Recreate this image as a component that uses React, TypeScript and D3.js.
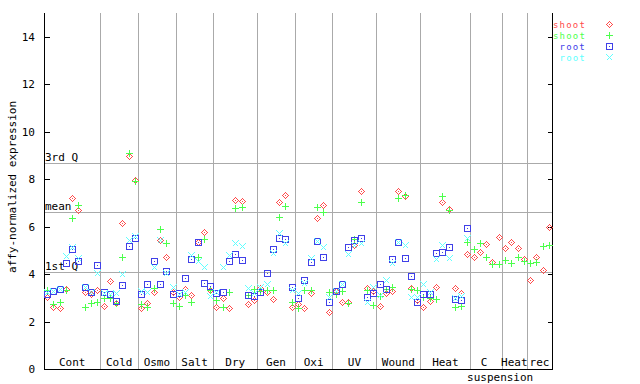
import React from "react";
import * as d3 from "d3";

const categories = ["Cont", "Cold", "Osmo", "Salt", "Dry", "Gen", "Oxi", "UV", "Wound", "Heat", "C suspension", "Heat", "rec"];
const sampleCounts = [9, 6, 6, 6, 7, 6, 6, 7, 7, 8, 5, 4, 4];

// shoot replicate 1 (red diamonds)
const shootRep1 = [
  3.05, 2.60, 2.56, 3.37, 7.20, 6.71, 3.23, 3.16, 3.33,
  2.66, 3.70, 2.77, 6.17, 8.98, 7.97,
  2.56, 2.80, 3.23, 5.44, 4.71, 3.23,
  3.02, 3.36, 3.12, 5.36, 5.76, 3.33,
  2.60, 2.98, 2.56, 7.11, 7.07, 2.74, 2.91,
  3.42, 3.23, 2.94, 7.03, 7.33, 2.60,
  2.74, 2.56, 3.19, 6.36, 6.90, 2.39,
  3.30, 2.81, 2.81, 5.23, 7.51, 3.40, 3.30,
  2.66, 3.20, 3.30, 7.51, 7.30, 3.40, 2.90,
  2.60, 2.87, 3.45, 7.03, 6.75, 3.40, 3.20, 4.84,
  4.71, 4.92, 5.26, 4.53, 5.55,
  5.09, 5.37, 5.09, 4.63,
  3.75, 4.71, 4.16, 5.98,
];
// shoot replicate 2 (green plus)
const shootRep2 = [
  3.33, 2.73, 2.81, 3.33, 6.36, 6.92, 2.60, 2.77, 2.81,
  2.98, 2.99, 2.78, 4.71, 9.10, 7.93,
  2.73, 2.63, 3.40, 5.89, 5.30, 2.77,
  2.66, 3.12, 2.81, 4.71, 5.47, 3.33,
  2.90, 2.60, 3.23, 6.78, 6.82, 3.12, 3.36,
  3.30, 3.33, 3.33, 6.40, 6.86, 2.81,
  2.56, 3.33, 3.33, 6.82, 6.61, 3.26,
  3.16, 3.30, 2.77, 5.47, 7.03, 3.33, 2.70,
  3.08, 3.36, 3.45, 7.20, 7.34, 3.36, 3.33,
  3.05, 3.00, 2.94, 7.30, 6.71, 2.60, 2.66, 5.34,
  5.05, 5.30, 4.71, 4.41, 4.41,
  4.58, 4.46, 4.74, 4.55,
  4.46, 4.50, 5.19, 5.23,
];
// root replicate 1 (blue squares)
const rootRep1 = [
  3.16, 3.30, 3.36, 4.46, 5.06, 4.55, 3.45, 3.23, 4.39,
  3.23, 3.15, 2.86, 3.53, 5.19, 5.54,
  3.16, 3.58, 4.55, 3.58, 4.12, 3.15,
  3.19, 3.82, 4.64, 5.34, 3.61, 3.51,
  3.19, 3.23, 4.55, 4.84, 4.58, 3.12, 3.09,
  3.26, 4.04, 5.05, 5.54, 5.47, 3.45,
  2.98, 3.75, 4.53, 5.40, 4.71, 2.84,
  3.30, 3.58, 5.13, 5.44, 5.51, 3.02, 3.19,
  3.57, 3.36, 4.64, 5.34, 4.67, 3.92, 2.81,
  3.15, 3.15, 4.88, 4.92, 5.13, 2.94, 2.91, 5.93,
];
// root replicate 2 (cyan crosses)
const rootRep2 = [
  3.25, 3.30, 3.36, 4.77, 5.13, 4.67, 3.45, 3.23, 4.06,
  3.20, 3.16, 3.19, 3.99, 5.44, 5.61,
  3.29, 3.26, 4.31, 5.44, 4.06, 3.47,
  3.15, 3.25, 4.81, 4.57, 4.29, 3.08,
  3.25, 4.31, 4.81, 5.30, 5.20, 3.42, 3.20,
  3.47, 3.57, 4.88, 5.72, 5.30, 3.33,
  3.19, 3.64, 4.67, 5.40, 5.13, 3.05,
  3.30, 3.58, 4.84, 5.25, 5.30, 2.84, 3.45,
  3.12, 3.75, 4.48, 5.34, 5.22, 3.05, 3.05,
  3.57, 3.26, 4.64, 5.23, 4.67, 3.00, 3.08, 5.51,
];

const yTicks = [0, 2, 4, 6, 8, 10, 12, 14];
const refLabels = ["3rd Q", "mean", "1st Q"];
const refValues = [8.67, 6.6, 4.07];
const legendLabels = ["shoot", "shoot", "root", "root"];

const COLORS = ["#ff4a4a", "#4cff4c", "#4040e8", "#60ffff"];
const SHAPES = ["diamond", "plus", "square", "cross"];
const FONT = "'DejaVu Sans Mono', monospace";

function Marker({ shape, cx, cy, color }: { shape: string; cx: number; cy: number; color: string }) {
  const r = 3.5;
  if (shape === "diamond") {
    return (
      <g shapeRendering="crispEdges">
        <path d={`M${cx},${cy - 3}L${cx + 3},${cy}L${cx},${cy + 3}L${cx - 3},${cy}Z`} stroke={color} fill="none" strokeWidth={1} />
        <rect x={cx - 0.5} y={cy - 0.5} width={1} height={1} fill={color} />
      </g>
    );
  }
  if (shape === "plus") {
    return (
      <path d={`M${cx - r},${cy}H${cx + r}M${cx},${cy - r}V${cy + r}`} stroke={color} strokeWidth={1} shapeRendering="crispEdges" />
    );
  }
  if (shape === "square") {
    return (
      <g shapeRendering="crispEdges">
        <rect x={cx - 3} y={cy - 3} width={6} height={6} fill="none" stroke={color} strokeWidth={1} />
        <rect x={cx - 0.5} y={cy - 0.5} width={1} height={1} fill={color} />
      </g>
    );
  }
  return (
    <path d={`M${cx - 3},${cy - 3}L${cx + 3},${cy + 3}M${cx - 3},${cy + 3}L${cx + 3},${cy - 3}`} stroke={color} strokeWidth={1} shapeRendering="crispEdges" />
  );
}

export default function App() {
  const W = 640, H = 384;
  const left = 44, right = 552, top = 13.3, bottom = 369;
  const total = d3.sum(sampleCounts);
  const x = d3.scaleLinear().domain([0, total]).range([left, right]);
  const y = d3.scaleLinear().domain([0, 15]).range([bottom, top]);
  const bounds = [0, ...Array.from(d3.cumsum(sampleCounts))];
  const series = [shootRep1, shootRep2, rootRep1, rootRep2];
  const px = (v: number) => Math.round(v) + 0.5;

  return (
    <svg width={W} height={H} style={{ position: "absolute", left: 0, top: 0, background: "#fff" }} fontFamily={FONT} fontSize={11}>
      <rect width={W} height={H} fill="#fff" />
      {/* separators */}
      {bounds.slice(1, -1).map((b, i) => (
        <line key={"s" + i} x1={px(x(b))} x2={px(x(b))} y1={top} y2={bottom} stroke="#aaaaaa" shapeRendering="crispEdges" />
      ))}
      {/* reference lines */}
      {refValues.map((v, i) => (
        <g key={"r" + i}>
          <line x1={left} x2={right} y1={px(y(v))} y2={px(y(v))} stroke="#aaaaaa" shapeRendering="crispEdges" />
          <text x={left + 1} y={Math.round(y(v)) - 2} fill="#000">{refLabels[i]}</text>
        </g>
      ))}
      {/* axes */}
      <path d={`M${px(left)},${top}V${px(bottom)}H${px(right)}V${top}`} fill="none" stroke="#000" shapeRendering="crispEdges" />
      {yTicks.map((t) => (
        <g key={"t" + t}>
          <line x1={px(left)} x2={px(left) + 5} y1={px(y(t))} y2={px(y(t))} stroke="#000" shapeRendering="crispEdges" />
          <line x1={px(right) - 5} x2={px(right)} y1={px(y(t))} y2={px(y(t))} stroke="#000" shapeRendering="crispEdges" />
          <text x={35} y={y(t) + 4} textAnchor="end" fill="#000">{t}</text>
        </g>
      ))}
      <text transform={`translate(16,187) rotate(-90)`} textAnchor="middle" fill="#000">affy-normalized expression</text>
      {/* category labels */}
      {categories.map((c, i) => {
        const cx = x((bounds[i] + bounds[i + 1]) / 2);
        const parts = c.split(" ");
        if (parts.length > 1) {
          return (
            <g key={"c" + i}>
              <text x={cx - 2} y={366} textAnchor="middle" fill="#000">{parts[0]}</text>
              <text x={cx + 14} y={381} textAnchor="middle" fill="#000">{parts[1]}</text>
            </g>
          );
        }
        return <text key={"c" + i} x={cx} y={366} textAnchor="middle" fill="#000">{c}</text>;
      })}
      {/* points */}
      {series.map((vals, s) => (
        <g key={"p" + s}>
          {vals.map((v, i) => (
            <Marker key={i} shape={SHAPES[s]} cx={px(x(i + 0.5))} cy={px(y(v))} color={COLORS[s]} />
          ))}
        </g>
      ))}
      {/* legend */}
      {legendLabels.map((l, i) => {
        const cy = 24 + i * 11;
        return (
          <g key={"l" + i}>
            <text x={586} y={cy + 3.5} textAnchor="end" fill={COLORS[i]} fontSize={9} letterSpacing={1.2}>{l}</text>
            <Marker shape={SHAPES[i]} cx={609.5} cy={px(cy)} color={COLORS[i]} />
          </g>
        );
      })}
    </svg>
  );
}
